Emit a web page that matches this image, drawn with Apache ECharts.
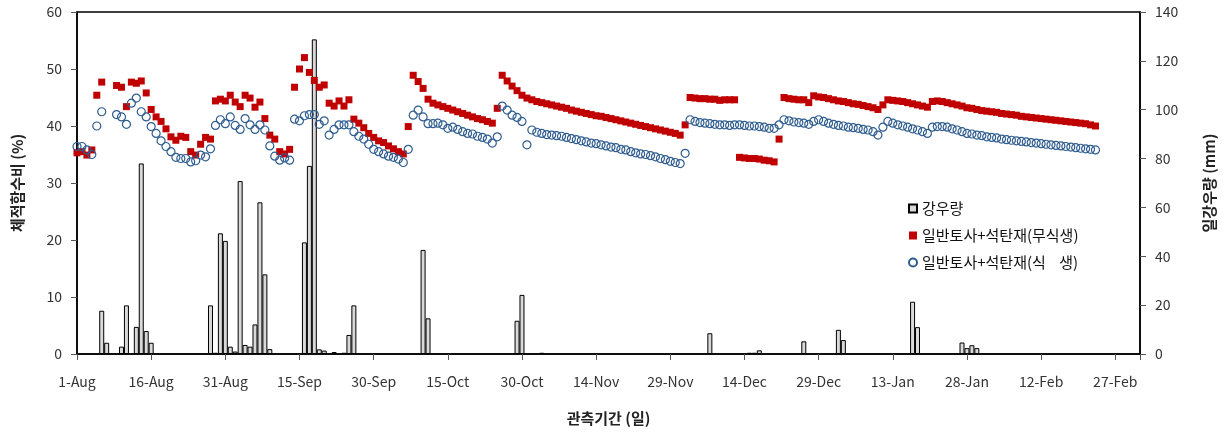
<!DOCTYPE html>
<html>
<head>
<meta charset="utf-8">
<script src="https://cdn.jsdelivr.net/npm/echarts@6/dist/echarts.min.js"></script>
<style>
html,body{margin:0;padding:0;background:#fff;}
#chart{width:1228px;height:434px;}
</style>
</head>
<body>
<div id="chart"></div>
<script>
// x tick labels (every 15 days from 1-Aug, day index 0)
const tickLabels = ['1-Aug','16-Aug','31-Aug','15-Sep','30-Sep','15-Oct','30-Oct','14-Nov','29-Nov','14-Dec','29-Dec','13-Jan','28-Jan','12-Feb','27-Feb'];

// 체적함수비 (%) per day index (array index = day since 1-Aug), null = no reading
const bareValues = [
35.3,35.5,34.9,35.8,45.4,47.7,null,null,47.1,46.8,
43.4,47.7,47.5,47.9,45.8,42.9,41.6,40.8,39.5,38.1,
37.5,38.2,38.0,35.5,34.9,36.8,38.0,37.7,44.4,44.7,
44.4,45.4,44.2,43.4,45.4,44.9,43.3,44.2,41.3,38.4,
37.7,35.5,35.1,35.9,46.8,50.0,52.0,49.4,48.0,46.8,
47.2,44.0,43.5,44.4,43.5,44.6,41.2,40.5,39.7,38.7,
38.0,37.4,37.1,36.5,36.0,35.5,35.1,39.9,48.9,47.8,
46.6,44.7,44.0,43.7,43.4,43.1,42.8,42.5,42.2,41.9,
41.6,41.3,41.1,40.8,40.5,43.1,48.9,47.9,47.0,46.2,
45.4,44.9,44.6,44.3,44.1,43.9,43.7,43.5,43.3,43.1,
42.8,42.6,42.4,42.2,42.0,41.8,41.7,41.5,41.3,41.1,
40.9,40.7,40.5,40.3,40.1,39.9,39.7,39.5,39.3,39.1,
38.9,38.7,38.4,40.2,45.0,44.9,44.8,44.8,44.7,44.7,
44.5,44.6,44.6,44.6,34.5,34.4,34.3,34.3,34.2,34.0,
33.9,33.7,37.7,45.0,44.8,44.7,44.6,44.6,44.1,45.3,
45.1,45.0,44.8,44.6,44.4,44.3,44.1,43.9,43.8,43.6,
43.4,43.2,42.9,43.7,44.6,44.5,44.4,44.3,44.1,43.9,
43.7,43.5,43.3,44.3,44.4,44.3,44.1,43.9,43.7,43.5,
43.2,43.1,42.9,42.7,42.6,42.5,42.4,42.2,42.1,42.0,
41.9,41.7,41.6,41.5,41.4,41.3,41.2,41.1,41.0,40.9,
40.8,40.7,40.6,40.5,40.4,40.2,40.0
];

const vegValues = [
36.4,36.4,35.8,35.0,40.0,42.5,null,null,42.0,41.6,
40.3,44.0,44.9,42.5,41.6,39.9,38.7,37.4,36.4,35.5,
34.5,34.3,34.3,33.7,33.9,34.9,34.6,36.0,40.1,41.1,
40.4,41.6,40.1,39.4,41.3,40.2,39.4,40.2,39.3,36.5,
34.7,34.0,34.4,34.0,41.2,40.9,41.8,42.0,42.0,40.3,
40.9,38.4,39.4,40.2,40.2,40.2,39.0,38.2,37.7,36.8,
35.9,35.5,35.1,34.7,34.5,34.2,33.6,35.9,41.9,42.8,
41.6,40.4,40.4,40.5,40.2,39.6,39.8,39.4,39.0,38.7,
38.6,38.2,38.0,37.7,37.0,38.1,43.5,42.8,41.9,41.5,
40.8,36.7,39.3,38.9,38.7,38.5,38.4,38.3,38.2,38.0,
37.8,37.6,37.4,37.2,37.0,36.9,36.7,36.5,36.3,36.2,
35.9,35.8,35.5,35.3,35.1,35.0,34.8,34.6,34.3,34.1,
33.8,33.6,33.4,35.2,41.1,40.8,40.6,40.5,40.4,40.3,
40.2,40.2,40.1,40.2,40.2,40.1,40.0,40.0,39.9,39.8,
39.6,39.6,40.2,41.1,40.9,40.7,40.6,40.5,40.3,40.8,
41.1,40.8,40.5,40.3,40.1,40.0,39.8,39.7,39.6,39.4,
39.3,39.0,38.4,39.8,40.8,40.5,40.2,40.0,39.8,39.5,
39.3,39.0,38.7,39.8,39.9,39.9,39.8,39.5,39.3,39.0,
38.7,38.6,38.4,38.3,38.1,38.0,37.9,37.7,37.6,37.5,
37.4,37.3,37.2,37.1,37.0,36.9,36.8,36.7,36.6,36.5,
36.4,36.3,36.2,36.1,36.0,35.9,35.8
];

// 일강우량 (mm): day index and amount
const rainDays = [5,6,9,10,12,13,14,15,27,28,29,30,31,32,33,34,35,36,37,38,39,46,47,48,49,50,52,54,55,56,70,71,89,90,94,128,136,137,138,147,154,155,169,170,179,180,181,182];
const rainValues = [17.7,4.6,3.0,19.9,11.1,78.0,9.4,4.6,19.9,0.5,49.4,46.3,3.0,1.0,70.8,3.7,3.0,12.1,62.1,32.6,2.0,45.7,77.0,128.8,1.9,1.4,0.8,0.5,7.8,19.9,42.6,14.6,13.6,24.2,0.5,8.5,0.5,0.5,1.5,5.2,9.9,5.7,21.4,11.0,4.7,2.4,3.6,2.4];

const seriesNames = ['강우량','일반토사+석탄재(무식생)','일반토사+석탄재(식    생)'];

const FONT = '"Noto Sans CJK KR", "Noto Sans", sans-serif';

const rainData = rainDays.map((d, i) => [d, rainValues[i]]);
const bareData = bareValues.map((v, i) => [i, v]).filter(p => p[1] !== null);
const vegData = vegValues.map((v, i) => [i, v]).filter(p => p[1] !== null);

const chart = echarts.init(document.getElementById('chart'), null, {renderer: 'canvas'});
chart.setOption({
  animation: false,
  backgroundColor: '#fff',
  textStyle: {fontFamily: FONT},
  grid: {left: 77, right: 88, top: 12, bottom: 80, show: true, borderColor: '#000', borderWidth: 1.5, containLabel: false},
  legend: {
    orient: 'vertical', left: 903, top: 196, itemGap: 12, itemWidth: 8, itemHeight: 8,
    textStyle: {fontSize: 15, color: '#111', fontFamily: FONT},
    data: [
      {name: seriesNames[0], icon: 'rect'},
      {name: seriesNames[1], icon: 'rect'},
      {name: seriesNames[2], icon: 'circle'}
    ]
  },
  xAxis: {
    type: 'value', min: 0, max: 215, interval: 15,
    axisLine: {show: true, lineStyle: {color: '#000', width: 1.5}},
    axisTick: {show: true, inside: false, length: 6, lineStyle: {color: '#555'}},
    splitLine: {show: false},
    axisLabel: {
      margin: 21, fontSize: 14, color: '#333', fontFamily: FONT,
      formatter: v => (v % 15 === 0 && tickLabels[v / 15] !== undefined) ? tickLabels[v / 15] : ''
    },
    name: '관측기간 (일)', nameLocation: 'middle', nameGap: 57,
    nameTextStyle: {fontSize: 15, fontWeight: 'bold', color: '#222', fontFamily: FONT}
  },
  yAxis: [
    {
      type: 'value', position: 'left', min: 0, max: 60, interval: 10,
      axisLine: {show: true, lineStyle: {color: '#000', width: 1.5}},
      axisTick: {show: true, inside: false, length: 6, lineStyle: {color: '#555'}},
      splitLine: {show: false},
      axisLabel: {margin: 15, fontSize: 14, color: '#333', fontFamily: FONT},
      name: '체적함수비 (%)', nameLocation: 'middle', nameGap: 52, nameRotate: 90,
      nameTextStyle: {fontSize: 15, fontWeight: 'bold', color: '#222', fontFamily: FONT}
    },
    {
      type: 'value', position: 'right', min: 0, max: 140, interval: 20,
      axisLine: {show: true, lineStyle: {color: '#000', width: 1.5}},
      axisTick: {show: true, inside: false, length: 6, lineStyle: {color: '#555'}},
      splitLine: {show: false},
      axisLabel: {margin: 15, fontSize: 14, color: '#333', fontFamily: FONT},
      name: '일강우량 (mm)', nameLocation: 'middle', nameGap: 62, nameRotate: 90,
      nameTextStyle: {fontSize: 15, fontWeight: 'bold', color: '#222', fontFamily: FONT}
    }
  ],
  series: [
    {
      name: seriesNames[0], type: 'bar', xAxisIndex: 0, yAxisIndex: 1,
      data: rainData, barWidth: 5, z: 1,
      itemStyle: {color: '#D9D9D9', borderColor: '#000', borderWidth: 1}
    },
    {
      name: seriesNames[1], type: 'scatter', yAxisIndex: 0,
      data: bareData, symbol: 'rect', symbolSize: 7, z: 3,
      itemStyle: {color: '#C00000', opacity: 1}
    },
    {
      name: seriesNames[2], type: 'scatter', yAxisIndex: 0,
      data: vegData, symbol: 'circle', symbolSize: 8, z: 4,
      itemStyle: {color: 'rgba(255,255,255,0)', borderColor: '#2F5D8F', borderWidth: 1.2, opacity: 1}
    }
  ]
});
</script>
</body>
</html>
